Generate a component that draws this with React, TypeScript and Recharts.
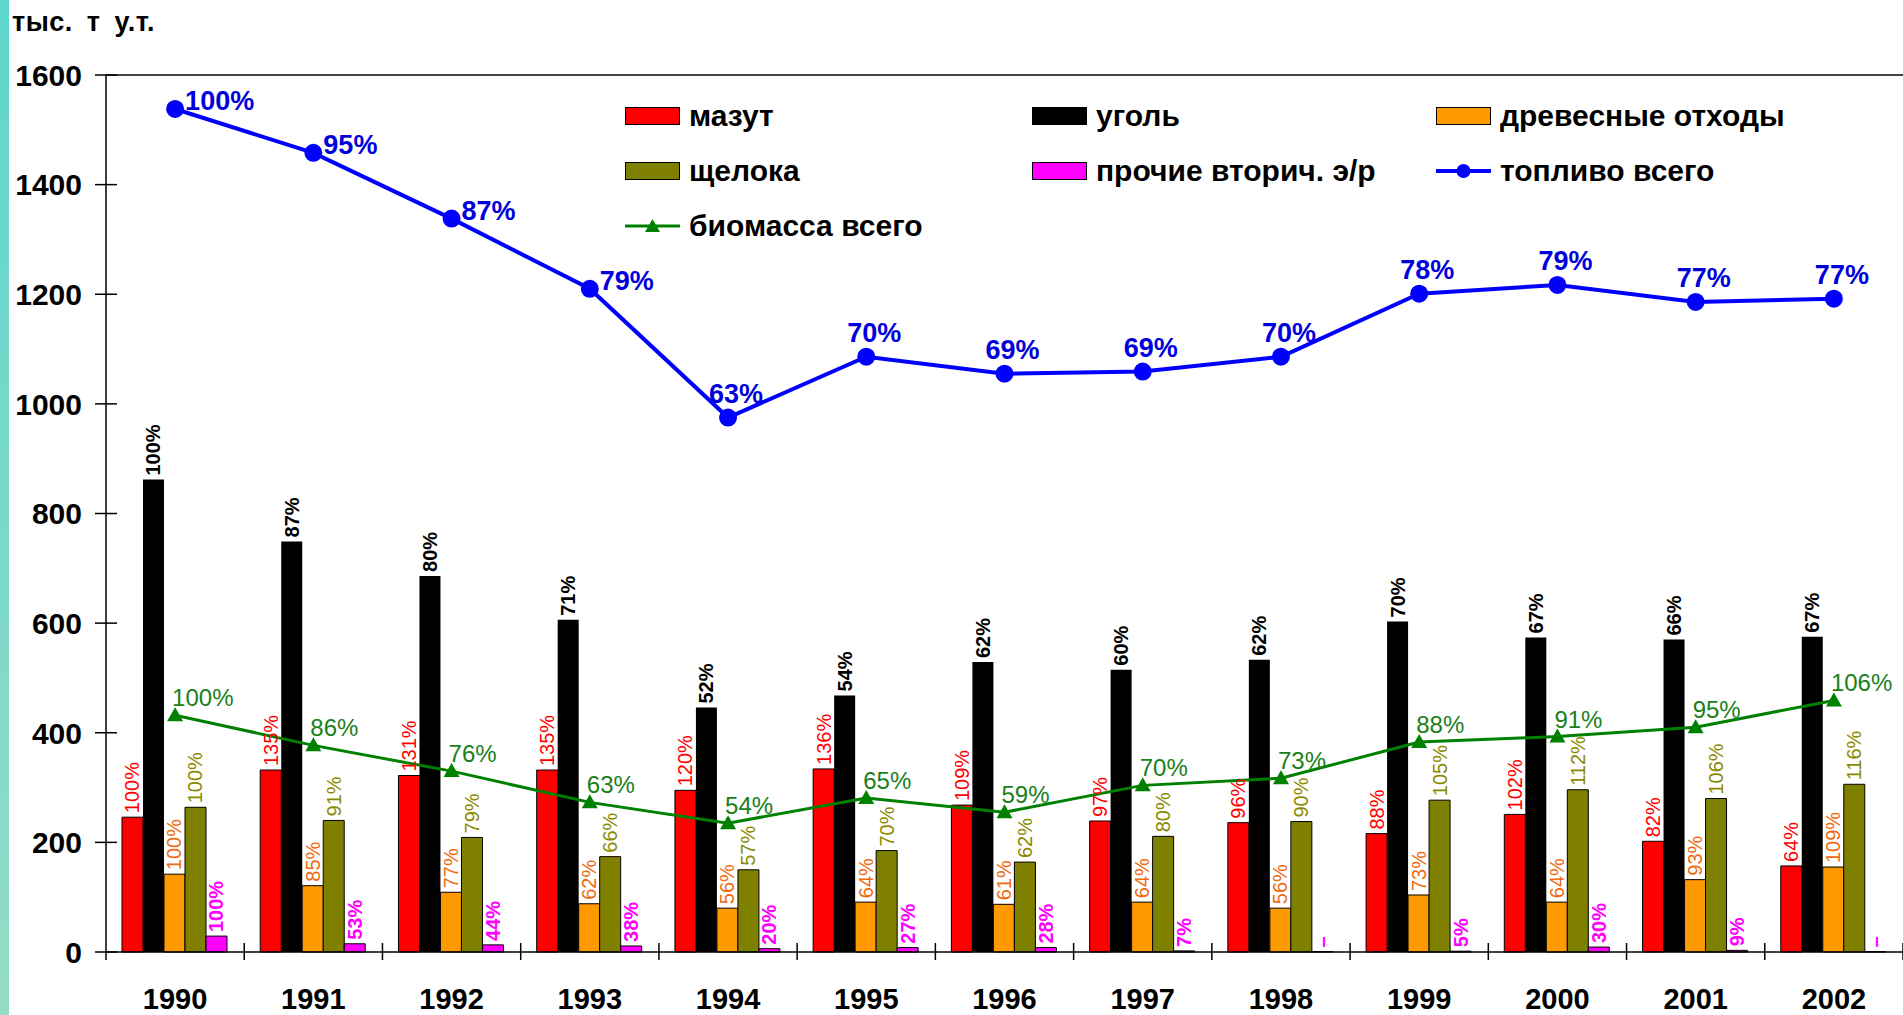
import React from "react";
import {
  ComposedChart,
  Bar,
  Line,
  XAxis,
  YAxis,
  ReferenceLine,
  LabelList,
} from "recharts";

// values, thousand t of fuel equivalent
const years = ["1990", "1991", "1992", "1993", "1994", "1995", "1996", "1997", "1998", "1999", "2000", "2001", "2002"];
const mazut = [246, 332, 322, 332, 295, 334, 268, 239, 236, 216, 251, 202, 157];
const ugol = [862, 749, 686, 606, 446, 468, 529, 515, 533, 603, 574, 570, 575];
const wood = [142, 121, 109, 88, 80, 91, 87, 91, 80, 104, 91, 132, 155];
const liquor = [264, 240, 209, 174, 150, 185, 164, 211, 238, 277, 296, 280, 306];
const other = [29, 15, 13, 11, 6, 8, 8, 2, 0, 1.5, 9, 3, 0];
const fuelTotal = [1538, 1458, 1338, 1210, 975, 1086, 1055, 1059, 1086, 1201, 1217, 1186, 1192];
const biomass = [432, 377, 330, 273, 235, 281, 255, 304, 317, 383, 393, 410, 459];

// percent labels as printed
const mazutPct = ["100%", "135%", "131%", "135%", "120%", "136%", "109%", "97%", "96%", "88%", "102%", "82%", "64%"];
const ugolPct = ["100%", "87%", "80%", "71%", "52%", "54%", "62%", "60%", "62%", "70%", "67%", "66%", "67%"];
const woodPct = ["100%", "85%", "77%", "62%", "56%", "64%", "61%", "64%", "56%", "73%", "64%", "93%", "109%"];
const liquorPct = ["100%", "91%", "79%", "66%", "57%", "70%", "62%", "80%", "90%", "105%", "112%", "106%", "116%"];
const otherPct = ["100%", "53%", "44%", "38%", "20%", "27%", "28%", "7%", "–", "5%", "30%", "9%", "–"];
const fuelPct = ["100%", "95%", "87%", "79%", "63%", "70%", "69%", "69%", "70%", "78%", "79%", "77%", "77%"];
const biomassPct = ["100%", "86%", "76%", "63%", "54%", "65%", "59%", "70%", "73%", "88%", "91%", "95%", "106%"];

const yTicks = [0, 200, 400, 600, 800, 1000, 1200, 1400, 1600];

const data = years.map((year, i) => ({
  year,
  mazut: mazut[i],
  ugol: ugol[i],
  wood: wood[i],
  liquor: liquor[i],
  other: other[i],
  fuelTotal: fuelTotal[i],
  biomass: biomass[i],
  mazutPct: mazutPct[i],
  ugolPct: ugolPct[i],
  woodPct: woodPct[i],
  liquorPct: liquorPct[i],
  otherPct: otherPct[i],
  fuelPct: fuelPct[i],
  biomassPct: biomassPct[i],
}));

const W = 1903;
const H = 1015;
const AXIS_X = 106;
const BAND = (W - AXIS_X) / years.length;
const FONT = "'Liberation Sans', Arial, sans-serif";
const NARROW = "'Liberation Sans Narrow', 'Liberation Sans', Arial, sans-serif";

const BLUE = "#0000ff";
const GREEN = "#008000";

const vLabel = (color: string, bold = false) => (props: any) => {
  const { x, y, width, value } = props;
  const cx = Number(x) + Number(width) / 2;
  const ty = Number(y) - 4;
  return (
    <text
      x={cx}
      y={ty}
      transform={`rotate(-90 ${cx} ${ty})`}
      textAnchor="start"
      dominantBaseline="central"
      fill={color}
      fontSize={20}
      fontWeight={bold ? "bold" : "normal"}
      fontFamily={FONT}
    >
      {value}
    </text>
  );
};

const fuelLabel = (props: any) => {
  const { x, y, index, value } = props;
  const v = fuelTotal[index];
  const prev = fuelTotal[index - 1];
  const next = fuelTotal[index + 1];
  const right = (prev === undefined || prev > v) && next !== undefined && next < v;
  return (
    <text
      x={right ? x + 10 : x + 8}
      y={right ? y + 1 : y - 15}
      textAnchor={right ? "start" : "middle"}
      fill="#0000dd"
      fontSize={27}
      fontWeight="bold"
      fontFamily={FONT}
    >
      {value}
    </text>
  );
};

const biomassLabel = (props: any) => {
  const { x, y, value } = props;
  return (
    <text x={x - 3} y={y - 9} textAnchor="start" fill="#1a801a" fontSize={24} fontFamily={FONT}>
      {value}
    </text>
  );
};

const TriangleDot = (props: any) => {
  const { cx, cy } = props;
  if (cx == null || cy == null) return null;
  return <polygon points={`${cx},${cy - 8} ${cx - 8},${cy + 6} ${cx + 8},${cy + 6}`} fill={GREEN} />;
};

const YTick = (props: any) => {
  const { x, y, payload } = props;
  return (
    <g>
      <line x1={x - 11} x2={x + 11} y1={y} y2={y} stroke="#000" strokeWidth={1.5} />
      <text x={x - 24} y={y} dy="0.36em" textAnchor="end" fontSize={30} fontWeight="bold" fontFamily={FONT} fill="#000">
        {payload.value}
      </text>
    </g>
  );
};

const XTick = (props: any) => {
  const { x, y, payload, index } = props;
  const bx = x + BAND / 2;
  return (
    <g>
      <line x1={bx} x2={bx} y1={y - 9} y2={y + 8} stroke="#000" strokeWidth={1.5} />
      {index === 0 && <line x1={x - BAND / 2} x2={x - BAND / 2} y1={y} y2={y + 8} stroke="#000" strokeWidth={1.5} />}
      <text x={x} y={y + 57} textAnchor="middle" fontSize={29} fontWeight="bold" fontFamily={FONT} fill="#000">
        {payload.value}
      </text>
    </g>
  );
};

const legendItems = [
  { name: "мазут", color: "#ff0000", kind: "bar" },
  { name: "уголь", color: "#000000", kind: "bar" },
  { name: "древесные отходы", color: "#ff9900", kind: "bar" },
  { name: "щелока", color: "#808000", kind: "bar" },
  { name: "прочие вторич. э/р", color: "#ff00ff", kind: "bar" },
  { name: "топливо всего", color: BLUE, kind: "circle" },
  { name: "биомасса всего", color: GREEN, kind: "triangle" },
];

function LegendIcon({ color, kind }: { color: string; kind: string }) {
  if (kind === "bar") {
    return <div style={{ width: 53, height: 16, background: color, border: "1px solid #000", flex: "none" }} />;
  }
  return (
    <svg width={55} height={20} style={{ flex: "none" }}>
      <line x1={0} x2={55} y1={10} y2={10} stroke={color} strokeWidth={kind === "circle" ? 4 : 3} />
      {kind === "circle" ? (
        <circle cx={27.5} cy={10} r={7} fill={color} />
      ) : (
        <polygon points="27.5,3 20,16 35,16" fill={color} />
      )}
    </svg>
  );
}

export default function App() {
  return (
    <div style={{ position: "absolute", left: 0, top: 0, width: W, height: H, background: "#fff", overflow: "hidden" }}>
      <div
        style={{
          position: "absolute",
          left: 0,
          top: 0,
          width: 9,
          height: H,
          background: "linear-gradient(#5ed6cc, #93dcc6)",
        }}
      />
      <div
        style={{
          position: "absolute",
          left: 12,
          top: 7,
          fontFamily: FONT,
          fontWeight: "bold",
          fontSize: 27,
          letterSpacing: 0.5,
          wordSpacing: 6,
          color: "#000",
        }}
      >
        тыс. т у.т.
      </div>
      <ComposedChart
        width={W}
        height={H}
        data={data}
        margin={{ top: 75, right: 0, left: 0, bottom: 0 }}
        barCategoryGap={16}
        barGap={0}
      >
        <XAxis
          dataKey="year"
          height={63}
          tickSize={0}
          tickMargin={0}
          tick={<XTick />}
          axisLine={{ stroke: "#000", strokeWidth: 1.5 }}
          interval={0}
        />
        <YAxis
          width={AXIS_X}
          domain={[0, 1600]}
          ticks={yTicks}
          tickSize={0}
          tickMargin={0}
          tick={<YTick />}
          axisLine={{ stroke: "#000", strokeWidth: 1.5 }}
          interval={0}
        />
        <ReferenceLine y={1600} stroke="#444" strokeWidth={2} />
        <Bar dataKey="mazut" fill="#ff0000" stroke="#000" strokeWidth={1} isAnimationActive={false}>
          <LabelList dataKey="mazutPct" content={vLabel("#ff0000")} />
        </Bar>
        <Bar dataKey="ugol" fill="#000000" isAnimationActive={false}>
          <LabelList dataKey="ugolPct" content={vLabel("#000000", true)} />
        </Bar>
        <Bar dataKey="wood" fill="#ff9900" stroke="#000" strokeWidth={1} isAnimationActive={false}>
          <LabelList dataKey="woodPct" content={vLabel("#f06a10")} />
        </Bar>
        <Bar dataKey="liquor" fill="#808000" stroke="#000" strokeWidth={1} isAnimationActive={false}>
          <LabelList dataKey="liquorPct" content={vLabel("#8a8a00")} />
        </Bar>
        <Bar
          dataKey="other"
          fill="#ff00ff"
          stroke="#000"
          strokeWidth={1}
          minPointSize={0.5}
          isAnimationActive={false}
        >
          <LabelList dataKey="otherPct" content={vLabel("#ff00ff", true)} />
        </Bar>
        <Line
          dataKey="fuelTotal"
          stroke={BLUE}
          strokeWidth={4}
          dot={{ r: 7, fill: BLUE, stroke: BLUE }}
          isAnimationActive={false}
        >
          <LabelList dataKey="fuelPct" content={fuelLabel} />
        </Line>
        <Line
          dataKey="biomass"
          stroke={GREEN}
          strokeWidth={3}
          dot={<TriangleDot />}
          isAnimationActive={false}
        >
          <LabelList dataKey="biomassPct" content={biomassLabel} />
        </Line>
      </ComposedChart>
      <div
        style={{
          position: "absolute",
          left: 625,
          top: 99,
          display: "grid",
          gridTemplateColumns: "407px 404px 440px",
          gridAutoRows: "55px",
          fontFamily: NARROW,
          fontWeight: "bold",
          fontSize: 30,
          color: "#000",
        }}
      >
        {legendItems.map((it) => (
          <div key={it.name} style={{ display: "flex", alignItems: "center", height: 34, gap: 9, whiteSpace: "nowrap" }}>
            <LegendIcon color={it.color} kind={it.kind} />
            <span>{it.name}</span>
          </div>
        ))}
      </div>
    </div>
  );
}
